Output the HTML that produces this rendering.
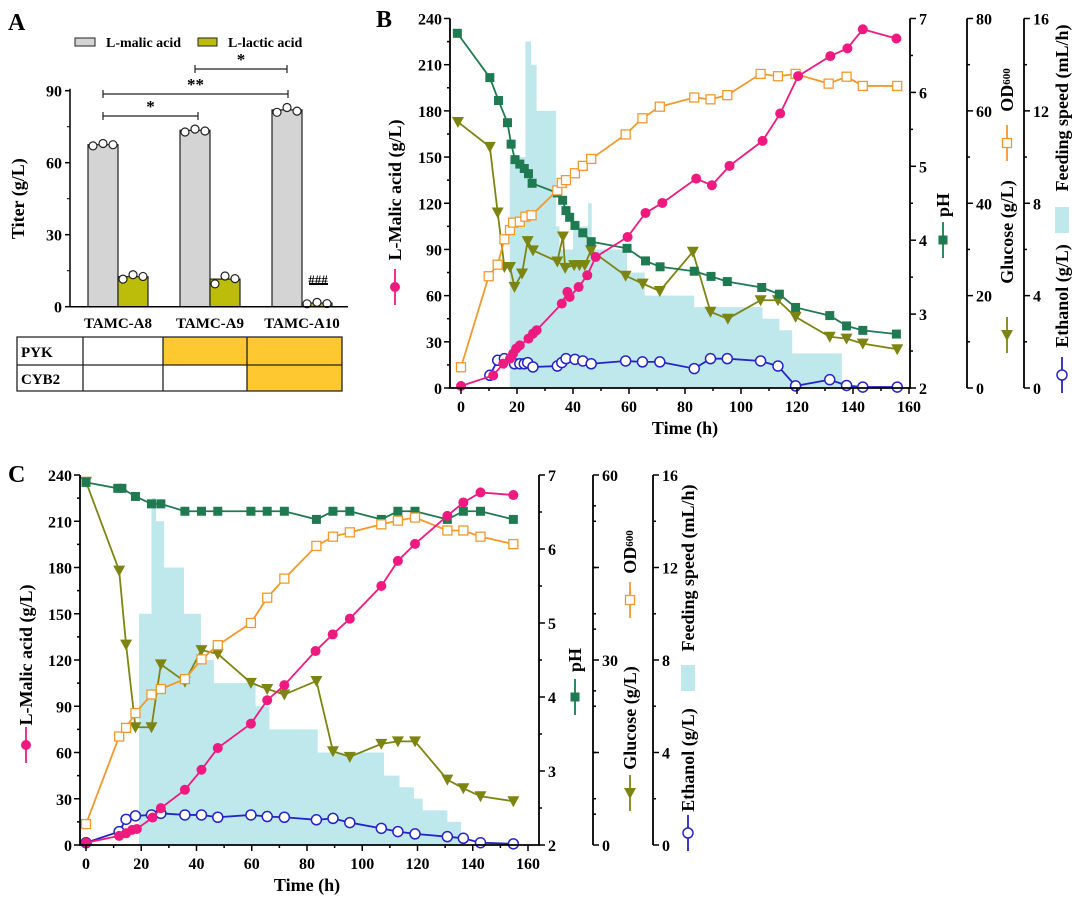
<!DOCTYPE html>
<html><head><meta charset="utf-8"><style>
html,body{margin:0;padding:0;background:#fff;}
svg{display:block;font-family:"Liberation Serif",serif;font-weight:bold;}
</style></head><body>
<svg id="fig" width="1080" height="902" viewBox="0 0 1080 902" xmlns="http://www.w3.org/2000/svg">
<text x="8" y="30" font-size="24">A</text>
<text x="376" y="27" font-size="24">B</text>
<text x="8" y="482" font-size="24">C</text>
<g id="pa"></g>
<g id="pb"></g>
<g id="pc"></g>
</svg>
<script>
// ---------- Panel A data ----------
const aCategories=["TAMC-A8","TAMC-A9","TAMC-A10"];
const aMalic=[67.5,73.5,82];
const aLactic=[12.5,11.5,1.5];
const aMalicReps=[[67,68,67.5],[72.8,74,73.2],[81,83,81.5]];
const aLacticReps=[[11.5,13.3,12.6],[9.5,12.8,11.7],[1.2,1.8,1.3]];
const aTicks=[0,30,60,90];
// ---------- Panel B data ----------
const bMalicT=[0,11.5,15.1,17.5,18.6,19.7,21,24.1,25.7,27,36,38,38.8,42,45.1,48.1,59.5,65.9,71.9,84,89.6,95.9,107.7,114,120.4,131.9,138,143.5,155.5];
const bMalicV=[1.3,8.2,15.8,19.1,22.3,25.6,27.7,32.1,35.3,37.5,54.8,62.4,59.1,65.6,73.2,85.1,98.1,113.7,120.2,136,131.7,144.3,160.5,178.3,202.6,215.6,220.6,233,227];
const bOdT=[0,9.9,13.1,15.5,17.5,18.6,21,23,25.2,34.4,36,37.5,40.7,43.5,46.5,58.8,64.8,71,83.3,89.1,95.1,107,113.2,119.5,131.3,137.7,143.5,155.8];
const bOdV=[4.5,24.2,26.7,32.2,34.2,35.8,36,37.1,37.4,42.8,44.4,45,46.5,48.1,49.6,54.9,58.4,60.9,62.9,62.5,63.4,68,67.5,68,65.9,67.4,65.4,65.4];
const bPhT=[-1.3,10.3,13.4,16.6,17.9,19.3,21,22.6,24.1,25.4,34.4,36.3,37.5,38.8,40.7,43.5,46.5,59.3,65.9,71.1,83.3,89.3,95.1,107.4,113.7,119.5,131.7,137.7,143.5,155.5];
const bPhV=[6.8,6.2,5.89,5.59,5.3,5.09,5.03,4.97,4.9,4.77,4.64,4.54,4.4,4.31,4.2,4.1,3.98,3.89,3.72,3.64,3.58,3.51,3.44,3.36,3.27,3.09,2.98,2.84,2.78,2.73];
const bGluT=[-1.1,10.3,13.1,15.5,17.5,19.1,21.8,23.8,25.7,34.4,36.4,37.2,40.4,42.3,44.2,46.4,58.8,64.9,71,82.8,89.1,95.3,107,113.2,119.5,131.7,137.7,143.5,155.8];
const bGluV=[57.6,52.2,38,26.2,26.2,21.9,24.8,31.8,29.8,27.4,32.8,26,26.6,26.6,26.6,29.8,24.3,22.6,21,29.5,16.5,15,19,19,15.4,11.1,10.7,9.6,8.4];
const bEthT=[10.3,13.1,15.5,19.1,21,22.6,23.8,25.7,34.4,36,37.5,40.7,43.5,46.5,58.8,64.8,71,83.3,89.1,95.1,107,113.2,119.5,131.7,137.7,143.5,155.8];
const bEthV=[0.55,1.2,1.27,1.05,1.05,1.05,1.1,0.91,0.95,1.1,1.27,1.24,1.17,1.05,1.17,1.13,1.13,0.84,1.27,1.27,1.17,0.95,0.09,0.36,0.11,0.04,0.04];
const bFeedStart=[17.4,23,25,27,34,35.2,40,45.4,46.7,59.3,65.6,83.3,107.7,113.7,118.3];
const bFeedV=[10,15,14,12,7,6,7,8,6,5,4,3.5,3,2.5,1.5];
const bFeedEnd=136;
// ---------- Panel C data ----------
const cMalicT=[0,12,14.5,16.7,18.4,24.1,27.1,35.8,41.8,47.7,59.7,65.6,71.8,83.1,89.3,95.5,106.9,112.9,119.1,130.8,136.6,142.8,154.7];
const cMalicV=[1.5,5.9,7.6,9.8,10.4,17.8,23.9,35.8,48.8,62.9,78.7,93.9,103.7,125.8,136.6,146.8,168,184.3,195.3,213.5,222.2,228.7,227];
const cT=[0,12,14.5,17.9,23.7,27.1,35.8,41.8,47.7,59.7,65.6,71.8,83.4,89.4,95.5,106.9,112.9,119.1,130.8,136.6,142.8,154.7];
const cOdV=[3.4,17.6,19,21.4,24.4,25.3,26.9,30.1,32.4,36,40.1,43.2,48.5,50,50.7,52,52.6,53.1,51,51,50,48.8];
const cPhT=[0,11.5,13,17.9,23.7,27.1,35.8,41.8,47.7,59.7,65.6,71.8,83.4,89.4,95.5,106.9,112.9,119.1,130.8,136.6,142.8,154.7];
const cPhV=[6.9,6.82,6.82,6.71,6.61,6.61,6.51,6.51,6.51,6.51,6.51,6.51,6.4,6.51,6.51,6.4,6.51,6.51,6.4,6.51,6.51,6.4];
const cGluV=[58.9,44.5,32.5,19.1,19.1,29.3,26.5,31.6,31,26.3,25.3,24.4,26.6,15.2,14.3,16.4,16.8,16.8,10.6,9.2,7.9,7.1];
const cEthV=[0.1,0.58,1.11,1.26,1.3,1.37,1.3,1.3,1.2,1.3,1.23,1.2,1.09,1.15,0.97,0.72,0.58,0.48,0.36,0.29,0.1,0.05];
const cFeedStart=[19.2,23.7,25.4,28.3,35.5,41.6,46.3,61.4,66.4,83.9,107.9,113.5,118.7,121.9,130.8];
const cFeedV=[10,15,14,12,10,8,7,6,5,4,3,2.5,2,1.5,1];
const cFeedEnd=135.8;

const NS="http://www.w3.org/2000/svg";
function mk(tag,attrs,parent){const e=document.createElementNS(NS,tag);for(const k in attrs)e.setAttribute(k,attrs[k]);parent.appendChild(e);return e;}
function txt(s,x,y,size,anchor,parent,rot){const e=mk("text",{x:x,y:y,"font-size":size,"text-anchor":anchor||"start"},parent);if(rot)e.setAttribute("transform","rotate(-90 "+x+" "+y+")");e.textContent=s;return e;}

// ---------- Panel A ----------
(function(){
const g=document.getElementById("pa");
const y0=306.7,y90=90.7,ax0=70,ax1=348;
const ys=v=>y0-(v/90)*(y0-y90);
const gx=[103,195,287],bw=30;
aTicks.forEach(t=>{const l=mk("line",{x1:ax0-5,x2:ax0,y1:ys(t),y2:ys(t),stroke:"#000","stroke-width":1.5},g);


const tt=txt(String(t),ax0-8,ys(t)+6,16,"end",g);

});
[15,45,75].forEach(t=>{mk("line",{x1:ax0-3,x2:ax0,y1:ys(t),y2:ys(t),stroke:"#000","stroke-width":1},g);});
aCategories.forEach((c,i)=>{
 const b1=mk("rect",{x:gx[i]-bw/2,y:ys(aMalic[i]),width:bw,height:y0-ys(aMalic[i]),fill:"#d4d4d4",stroke:"#222","stroke-width":1.2},g);
 
 
 const b2=mk("rect",{x:gx[i]+bw/2,y:ys(aLactic[i]),width:bw,height:y0-ys(aLactic[i]),fill:"#bcbc0a",stroke:"#222","stroke-width":1.2},g);
 
 
 aMalicReps[i].forEach((v,j)=>{const d=mk("circle",{cx:gx[i]-10+j*10,cy:ys(v),r:4,fill:"#fff",stroke:"#222","stroke-width":1.2},g);
 
 });
 aLacticReps[i].forEach((v,j)=>{const d=mk("circle",{cx:gx[i]+bw-10+j*10,cy:ys(v),r:4,fill:"#fff",stroke:"#222","stroke-width":1.2},g);
 
 });
 const lb=txt(c,gx[i]+bw/2,328,15,"middle",g);
 
 
});
const ax=mk("path",{d:`M${ax0} ${y90-2}V${y0}H${ax1}`,fill:"none",stroke:"#000","stroke-width":1.5},g);


const yl=txt("Titer (g/L)",24,ys(45),18,"middle",g,true);


const lg1=mk("rect",{x:75,y:38,width:20,height:8,fill:"#d4d4d4",stroke:"#222"},g);


const lt1=txt("L-malic acid",106,47,14,"start",g);


const lg2=mk("rect",{x:198,y:38,width:19,height:8,fill:"#bcbc0a",stroke:"#222"},g);


const lt2=txt("L-lactic acid",228,47,14,"start",g);


[[103,198,116,"*"],[103,288,94,"**"],[195,287,69,"*"]].forEach(b=>{
 const p=mk("path",{d:`M${b[0]} ${b[2]-4}V${b[2]+4}M${b[0]} ${b[2]}H${b[1]}M${b[1]} ${b[2]-4}V${b[2]+4}`,stroke:"#222","stroke-width":1.2,fill:"none"},g);
 
 
 const s=txt(b[3],(b[0]+b[1])/2,b[2]-4,17,"middle",g);
 
 
});
const h=txt("###",318,284,13,"middle",g);


mk("line",{x1:309,x2:328,y1:284,y2:284,stroke:"#000","stroke-width":2},g);
const tb=mk("g",{},g);


mk("rect",{x:163,y:337,width:179,height:28,fill:"#fdc830"},tb);
mk("rect",{x:247,y:365,width:95,height:26,fill:"#fdc830"},tb);
mk("path",{d:"M17 337H342V391H17ZM17 365H342M83 337V391M163 337V391M247 337V391",fill:"none",stroke:"#222","stroke-width":1.3},tb);
const r1=txt("PYK",21,357,15,"start",tb);


const r2=txt("CYB2",21,384,15,"start",tb);


})();

function drawPanel(g,P,D){
 const X=t=>P.t0+t*(P.t160-P.t0)/160;
 const Y=f=>P.y0-f*(P.y0-P.ytop);
 let d=`M${X(D.fs[0])} ${Y(0)}`;
 D.fs.forEach((s,i)=>{const e=i<D.fs.length-1?D.fs[i+1]:D.fe;d+=`V${Y(D.fv[i]/16)}H${X(e)}`;});
 d+=`V${Y(0)}Z`;
 const fa=mk("path",{d:d,fill:"#bfe8ec",stroke:"none"},g);
 
 
 function series(name,ts,vs,norm,color,marker){
  const sg=mk("g",{},g);
  
  
  const pts=ts.map((t,i)=>[X(t),Y(norm(vs[i]))]);
  mk("polyline",{points:pts.map(p=>p.join(",")).join(" "),fill:"none",stroke:color,"stroke-width":1.8},sg);
  pts.forEach(p=>{const m=drawMarker(sg,marker,p[0],p[1],color);
  
  });
 }
 series("ethanol",D.eT,D.eV,v=>v/16,"#2424c8","oc");
 series("glucose",D.gT,D.gV,v=>v/P.odMax,"#7d8512","tri");
 series("ph",D.pT,D.pV,v=>(v-2)/5,"#1f7a52","fs");
 series("od600",D.oT,D.oV,v=>v/P.odMax,"#f2992e","os");
 series("malic",D.mT,D.mV,v=>v/240,"#ee1a80","fc");
 const ax=mk("path",{d:`M${P.axL} ${Y(1)}V${P.y0}H${P.axR}V${Y(1)}M${P.axOD} ${Y(1)}V${P.y0}M${P.axF} ${Y(1)}V${P.y0}`,fill:"none",stroke:"#000","stroke-width":1.8},g);
 
 
 for(let v=0;v<=240;v+=15){const y=Y(v/240);mk("line",{x1:P.axL-(v%30?3:6),x2:P.axL,y1:y,y2:y,stroke:"#000","stroke-width":1.5},g);
  if(v%30===0){const l=txt(String(v),P.axL-8,y+6,16,"end",g);
  
  }}
 for(let t=0;t<=160;t+=10){const x=X(t);mk("line",{x1:x,x2:x,y1:P.y0,y2:P.y0+(t%20?3:6),stroke:"#000","stroke-width":1.5},g);
  if(t%20===0){const l=txt(String(t),x,P.y0+24,16,"middle",g);
  
  }}
 for(let v=2;v<=7;v+=0.5){const y=Y((v-2)/5);mk("line",{x1:P.axR,x2:P.axR+(v%1?3:6),y1:y,y2:y,stroke:"#000","stroke-width":1.5},g);
  if(v%1===0){const l=txt(String(v),P.axR+9,y+6,16,"start",g);
  
  }}
 const st=P.odMax/8;
 for(let v=0;v<=P.odMax;v+=st){const y=Y(v/P.odMax);const maj=Math.round(v/st)%2===0;mk("line",{x1:P.axOD,x2:P.axOD+(maj?6:3),y1:y,y2:y,stroke:"#000","stroke-width":1.5},g);
  if((P.odMax===80&&maj)||(P.odMax===60&&Math.abs(v%10)<0.01)){const l=txt(String(Math.round(v)),P.axOD+9,y+6,16,"start",g);
  
  }}
 if(P.odMax===60){for(let v=5;v<60;v+=10){const y=Y(v/60);mk("line",{x1:P.axOD,x2:P.axOD+3,y1:y,y2:y,stroke:"#000","stroke-width":1.5},g);}}
 for(let v=0;v<=16;v+=2){const y=Y(v/16);mk("line",{x1:P.axF,x2:P.axF+(v%4?3:6),y1:y,y2:y,stroke:"#000","stroke-width":1.5},g);
  if(v%4===0){const l=txt(String(v),P.axF+9,y+6,16,"start",g);
  
  }}
 const xt=txt("Time (h)",(P.t0+P.t160)/2,P.y0+46,18,"middle",g);
 
 
 function title(s,x,yc,size,name){const e=txt(s,x,yc,size,"middle",g,true);e.setAttribute("dominant-baseline","central");
  
  return e;}
 function key(x,y,color,marker,name){mk("line",{x1:x,x2:x,y1:y-18,y2:y+18,stroke:color,"stroke-width":1.8},g);const m=drawMarker(g,marker,x,y,color);
  
  }
 const L=P.lab;
 title("L-Malic acid (g/L)",L.malic[0],L.malic[1],18,"malic-axis-title");key(L.malic[0],L.malic[2],"#ee1a80","fc","malic-legend-marker");
 title("pH",L.ph[0],L.ph[1],18,"ph-axis-title");key(L.ph[0],L.ph[2],"#1f7a52","fs","ph-legend-marker");
 const ot=mk("text",{x:L.od[0],y:L.od[1],"font-size":18,"text-anchor":"middle","dominant-baseline":"central",transform:`rotate(-90 ${L.od[0]} ${L.od[1]})`},g);
 
 
 ot.innerHTML='OD<tspan font-size="11">600</tspan>';
 key(L.od[0],L.od[2],"#f2992e","os","od600-legend-marker");
 title("Glucose (g/L)",L.glu[0],L.glu[1],18,"glucose-axis-title");key(L.glu[0],L.glu[2],"#7d8512","tri","glucose-legend-marker");
 title("Feeding speed (mL/h)",L.feed[0],L.feed[1],18,"feed-axis-title");
 const fb=mk("rect",{x:L.feed[0]-7,y:L.feed[2]-13,width:14,height:26,fill:"#bfe8ec"},g);
 
 
 title("Ethanol (g/L)",L.eth[0],L.eth[1],18,"ethanol-axis-title");key(L.eth[0],L.eth[2],"#2424c8","oc","ethanol-legend-marker");
}
function drawMarker(p,m,x,y,c){
 if(m==="fc")return mk("circle",{cx:x,cy:y,r:5,fill:c},p);
 if(m==="oc")return mk("circle",{cx:x,cy:y,r:5,fill:"#fff",stroke:c,"stroke-width":1.5},p);
 if(m==="fs")return mk("rect",{x:x-4.5,y:y-4.5,width:9,height:9,fill:c},p);
 if(m==="os")return mk("rect",{x:x-4.5,y:y-4.5,width:9,height:9,fill:"#fff",stroke:c,"stroke-width":1.3},p);
 return mk("path",{d:`M${x-6} ${y-5}H${x+6}L${x} ${y+6}Z`,fill:c},p);
}
drawPanel(document.getElementById("pb"),
 {t0:461,t160:909,axL:450,axR:910,axOD:967,axF:1024,y0:388,ytop:18.5,odMax:80,
  lab:{malic:[395,190,287],ph:[943,205,240],od:[1007,90,143],glu:[1007,232,335],feed:[1062,108,220],eth:[1062,296,375]}},
 {mT:bMalicT,mV:bMalicV,oT:bOdT,oV:bOdV,pT:bPhT,pV:bPhV,gT:bGluT,gV:bGluV,eT:bEthT,eV:bEthV,fs:bFeedStart,fv:bFeedV,fe:bFeedEnd});
drawPanel(document.getElementById("pc"),
 {t0:86,t160:528,axL:80,axR:539,axOD:593,axF:653,y0:845,ytop:475,odMax:60,
  lab:{malic:[26,655,745],ph:[575,660,697],od:[630,552,600],glu:[630,718,793],feed:[688,568,678],eth:[688,760,833]}},
 {mT:cMalicT,mV:cMalicV,oT:cT,oV:cOdV,pT:cPhT,pV:cPhV,gT:cT,gV:cGluV,eT:cT,eV:cEthV,fs:cFeedStart,fv:cFeedV,fe:cFeedEnd});
</script>
</body></html>
